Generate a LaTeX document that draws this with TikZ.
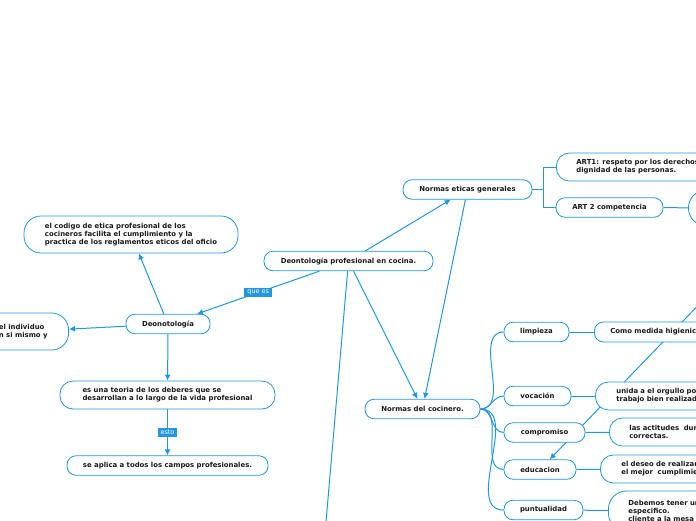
\documentclass[tikz,border=0pt]{standalone}
\usepackage{fontspec}
\setmainfont{DejaVu Sans}
\usetikzlibrary{arrows.meta,backgrounds}
\definecolor{bl}{RGB}{33,150,226}
\definecolor{txt}{RGB}{25,25,25}
\begin{document}
\begin{tikzpicture}[x=1pt,y=-1pt,
  box/.style={draw=bl,fill=white,rounded corners=9pt,line width=0.8pt,
    font=\bfseries\fontsize{6.9}{8.2}\selectfont,text=txt,inner sep=0pt,minimum height=19.5pt},
  rbox/.style={box,anchor=west,text width=190pt,align=left,inner xsep=20pt,
    minimum height=28pt,rounded corners=13pt},
  con/.style={draw=bl,line width=1pt},
  arr/.style={con,-{Latex[length=6pt,width=6pt]}},
  lab/.style={fill=bl,text=white,font=\fontsize{6.5}{7.5}\selectfont,inner xsep=3pt,inner ysep=2pt}]
\useasboundingbox (0,0) rectangle (696,520);
\clip (0,0) rectangle (696,520);
% nodes
\node[box,minimum width=169pt] (main) at (348.5,261) {Deontología profesional en cocina.};
\node[box,minimum width=129pt] (neg) at (467.5,189.5) {Normas eticas generales};
\node[rbox] (art1) at (556,167) {ART1: respeto por los derechos y la\\dignidad de las personas.};
\node[box,minimum width=107pt] (art2) at (609.5,207.5) {ART 2 competencia};
\node[box,anchor=west,minimum width=120pt,minimum height=36pt,rounded corners=18pt] (circ) at (688,208) {};
\node[box,minimum width=214pt,minimum height=37pt,rounded corners=17pt,align=left] (cod) at (131,234.5)
  {el codigo de etica profesional de los\\cocineros facilita el cumplimiento y la\\practica de los reglamentos eticos del oficio};
\node[box,anchor=east,minimum height=37pt,rounded corners=17pt,align=left,inner xsep=21pt] (leftn) at (69,331.5)
  {el individuo\\n si mismo y};
\node[box,minimum width=84pt] (deo) at (168,324) {Deonotología};
\node[box,minimum width=215pt,minimum height=28pt,rounded corners=13pt,align=left] (teo) at (167.5,395)
  {es una teoria de los deberes que se\\desarrollan a lo largo de la vida profesional};
\node[box,minimum width=201pt] (apl) at (167.5,465.5) {se aplica a todos los campos profesionales.};
\node[box,minimum width=115pt] (ncoc) at (422.5,409) {Normas del cocinero.};
\node[box,minimum width=65pt] (limp) at (536.5,332) {limpieza};
\node[box,minimum width=67pt] (voc) at (537.5,396) {vocación};
\node[box,minimum width=81pt] (comp) at (544.5,432.5) {compromiso};
\node[box,minimum width=72pt] (edu) at (540,469.5) {educacion};
\node[box,minimum width=79pt] (punt) at (543.5,510) {puntualidad};
\node[rbox,minimum height=20pt,rounded corners=9pt,inner xsep=16pt] (como) at (594,332) {Como medida higienica};
\node[rbox,inner xsep=21pt] (unida) at (595,396) {unida a el orgullo por el\\trabajo bien realizado};
\node[rbox] (acti) at (609,432) {las actitudes\ \ durante\\correctas.};
\node[rbox,inner xsep=21pt] (deseo) at (600,469) {el deseo de realizar\\el mejor\ \ cumplimiento};
\node[rbox,minimum height=40pt,rounded corners=18pt] (deb) at (608,511) {Debemos tener un\\especifico.\\cliente a la mesa};
\coordinate (offb) at (324,545);
\coordinate (tr) at (711,292);
% connectors
\begin{pgfonlayer}{background}
\draw[arr] (main) -- (deo) node[lab,midway]{que es};
\draw[arr] (main) -- (neg);
\draw[arr] (main) -- (ncoc);
\draw[arr] (neg) -- (ncoc);
\draw[con] (main) -- (offb);
\draw[arr] (deo) -- (cod);
\draw[arr] (deo) -- (leftn);
\draw[arr] (deo) -- (teo);
\draw[arr] (teo) -- (apl) node[lab,midway]{esto};
\draw[con] (neg.east) -- ++(11,0) |- (art1.west);
\draw[con] (neg.east) -- ++(11,0) |- (art2.west);
\draw[con] (art2) -- (circ);
\foreach \n in {limp,voc,comp,edu,punt}
  \draw[con] (ncoc.east) to[out=0,in=180] (\n.west);
\draw[con] (limp) -- (como);
\draw[con] (voc) -- (unida);
\draw[con] (comp) -- (acti);
\draw[con] (edu) -- (deseo);
\draw[con] (punt) -- (deb);
\draw[arr] (tr) -- (edu);
\end{pgfonlayer}
\end{tikzpicture}
\end{document}
